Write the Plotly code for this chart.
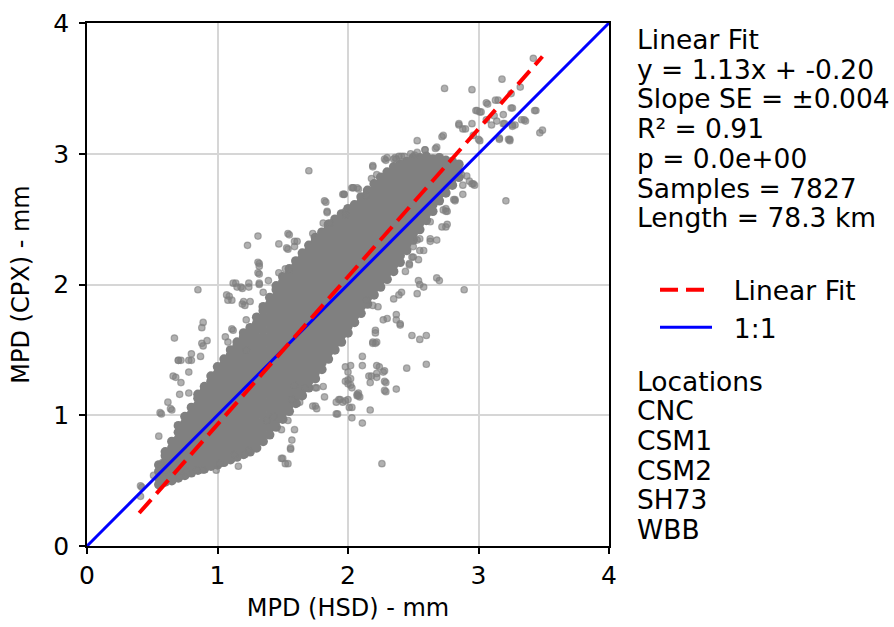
import plotly.graph_objects as go

# ---------------- data ----------------
# dense core of the cloud: column x positions (hundredths of mm) and the y values
# (hundredths of mm) of the samples stacked in each column
core_cols = [55, 60, 65, 70, 75, 80, 85, 90, 95, 100, 105, 110, 115, 120, 125, 130,
             135, 140, 145, 150, 155, 160, 165, 170, 175, 180, 185, 190, 195, 200,
             205, 210, 215, 220, 225, 230, 235, 240, 245, 250, 255, 260, 265, 270,
             275, 280, 285]
core_vals = [
    [47, 52, 57, 62],
    [49, 54, 59, 64, 69, 72],
    [50, 55, 60, 65, 70, 75, 80],
    [52, 57, 62, 67, 72, 77, 82, 87, 92],
    [54, 59, 64, 69, 74, 79, 84, 89, 94, 99],
    [56, 61, 66, 71, 76, 81, 86, 91, 96, 101, 106],
    [58, 63, 68, 73, 78, 83, 88, 93, 98, 103, 108, 113, 116],
    [59, 64, 69, 74, 79, 84, 89, 94, 99, 104, 109, 114, 119, 122],
    [61, 66, 71, 76, 81, 86, 91, 96, 101, 106, 111, 116, 121, 126, 130],
    [62, 67, 72, 77, 82, 87, 92, 97, 102, 107, 112, 117, 122, 127, 132, 137],
    [64, 69, 74, 79, 84, 89, 94, 99, 104, 109, 114, 119, 124, 129, 134, 139, 143],
    [66, 71, 76, 81, 86, 91, 96, 101, 106, 111, 116, 121, 126, 131, 136, 141, 146, 150],
    [68, 73, 78, 83, 88, 93, 98, 103, 108, 113, 118, 123, 128, 133, 138, 143, 148, 153, 156],
    [70, 75, 80, 85, 90, 95, 100, 105, 110, 115, 120, 125, 130, 135, 140, 145, 150, 155, 160, 163],
    [72, 77, 82, 87, 92, 97, 102, 107, 112, 117, 122, 127, 132, 137, 142, 147, 152, 157, 162, 167],
    [75, 80, 85, 90, 95, 100, 105, 110, 115, 120, 125, 130, 135, 140, 145, 150, 155, 160, 165, 170, 175],
    [80, 85, 90, 95, 100, 105, 110, 115, 120, 125, 130, 135, 140, 145, 150, 155, 160, 165, 170, 175, 180, 183],
    [85, 90, 95, 100, 105, 110, 115, 120, 125, 130, 135, 140, 145, 150, 155, 160, 165, 170, 175, 180, 185, 190],
    [91, 96, 101, 106, 111, 116, 121, 126, 131, 136, 141, 146, 151, 156, 161, 166, 171, 176, 181, 186, 191, 196, 199],
    [97, 102, 107, 112, 117, 122, 127, 132, 137, 142, 147, 152, 157, 162, 167, 172, 177, 182, 187, 192, 197, 202, 206],
    [103, 108, 113, 118, 123, 128, 133, 138, 143, 148, 153, 158, 163, 168, 173, 178, 183, 188, 193, 198, 203, 208, 212],
    [109, 114, 119, 124, 129, 134, 139, 144, 149, 154, 159, 164, 169, 174, 179, 184, 189, 194, 199, 204, 209, 214, 218],
    [115, 120, 125, 130, 135, 140, 145, 150, 155, 160, 165, 170, 175, 180, 185, 190, 195, 200, 205, 210, 215, 220, 224],
    [121, 126, 131, 136, 141, 146, 151, 156, 161, 166, 171, 176, 181, 186, 191, 196, 201, 206, 211, 216, 221, 226, 230],
    [128, 133, 138, 143, 148, 153, 158, 163, 168, 173, 178, 183, 188, 193, 198, 203, 208, 213, 218, 223, 228, 233, 236],
    [135, 140, 145, 150, 155, 160, 165, 170, 175, 180, 185, 190, 195, 200, 205, 210, 215, 220, 225, 230, 235, 240],
    [143, 148, 153, 158, 163, 168, 173, 178, 183, 188, 193, 198, 203, 208, 213, 218, 223, 228, 233, 238, 243, 246],
    [150, 155, 160, 165, 170, 175, 180, 185, 190, 195, 200, 205, 210, 215, 220, 225, 230, 235, 240, 245, 250],
    [156, 161, 166, 171, 176, 181, 186, 191, 196, 201, 206, 211, 216, 221, 226, 231, 236, 241, 246, 251, 254],
    [163, 168, 173, 178, 183, 188, 193, 198, 203, 208, 213, 218, 223, 228, 233, 238, 243, 248, 253, 258],
    [171, 176, 181, 186, 191, 196, 201, 206, 211, 216, 221, 226, 231, 236, 241, 246, 251, 256, 261],
    [178, 183, 188, 193, 198, 203, 208, 213, 218, 223, 228, 233, 238, 243, 248, 253, 258, 263, 267],
    [185, 190, 195, 200, 205, 210, 215, 220, 225, 230, 235, 240, 245, 250, 255, 260, 265, 270, 272],
    [192, 197, 202, 207, 212, 217, 222, 227, 232, 237, 242, 247, 252, 257, 262, 267, 272, 277],
    [198, 203, 208, 213, 218, 223, 228, 233, 238, 243, 248, 253, 258, 263, 268, 273, 278, 282],
    [204, 209, 214, 219, 224, 229, 234, 239, 244, 249, 254, 259, 264, 269, 274, 279, 284, 286],
    [210, 215, 220, 225, 230, 235, 240, 245, 250, 255, 260, 265, 270, 275, 280, 285, 290],
    [217, 222, 227, 232, 237, 242, 247, 252, 257, 262, 267, 272, 277, 282, 287, 292],
    [226, 231, 236, 241, 246, 251, 256, 261, 266, 271, 276, 281, 286, 291, 294],
    [234, 239, 244, 249, 254, 259, 264, 269, 274, 279, 284, 289, 294, 297],
    [242, 247, 252, 257, 262, 267, 272, 277, 282, 287, 292, 297],
    [249, 254, 259, 264, 269, 274, 279, 284, 289, 294, 298],
    [256, 261, 266, 271, 276, 281, 286, 291, 296],
    [264, 269, 274, 279, 284, 289, 294, 297],
    [270, 275, 280, 285, 290, 295],
    [276, 281, 286, 291, 294],
    [282, 287, 292],
]

# scattered samples around the core (mm)
fringe_x = [
    3.42, 3.18, 2.74, 2.95, 3.32, 3.07, 3.15, 2.99, 3.01, 3.44, 3.36, 3.49, 3.47, 3.24, 3.16, 3.01,
    3.26, 2.85, 2.88, 3.20, 3.12, 2.72, 2.53, 3.21, 2.88, 2.95, 2.82, 2.75, 2.75, 2.70, 2.89, 2.55,
    2.53, 2.58, 1.70,
    3.25, 3.06, 3.13, 2.98, 3.02, 2.85, 2.90, 2.95, 2.96, 3.00, 2.73, 3.06, 3.10, 3.14, 3.19, 3.19,
    3.26, 3.26, 3.35, 3.23, 3.16, 2.97, 2.88, 2.87, 2.82, 2.76, 2.76, 2.19, 2.28, 2.35, 2.41, 2.48,
    2.53, 2.59, 2.68, 2.18, 2.22, 1.96, 2.04, 1.98, 2.63, 2.55, 2.55, 2.50, 2.47, 2.63, 2.73, 2.91,
    2.93,
    3.25, 3.33, 3.43, 3.24, 3.28, 2.96, 2.81, 2.75, 2.72, 2.68, 2.63, 2.58, 2.54, 2.54, 2.68, 2.30,
    2.36, 2.39, 2.03, 2.07, 1.97, 1.82, 1.84, 1.81, 1.54, 1.59, 1.53, 1.52, 1.55, 1.73, 1.86, 1.98,
    1.31, 1.23, 1.55, 1.47, 1.61, 1.54, 1.83, 1.97, 2.04, 2.08, 1.84, 1.98, 2.14, 2.19, 2.29, 2.37,
    2.43, 2.51, 2.59, 2.67,
    1.14, 1.18, 1.24, 1.09, 1.11, 1.19, 1.25, 0.89, 0.88, 0.92, 0.89, 0.70, 0.80, 0.68, 1.32, 1.32,
    1.32, 1.39, 1.47, 0.85, 0.67,
    1.59, 1.31, 1.32, 1.12, 1.15, 1.19, 1.24, 1.31, 1.32, 1.35, 1.07, 1.08, 1.20, 1.21, 1.11, 1.12,
    1.06, 1.08, 1.22,
    0.56, 0.55, 0.62, 0.65, 0.70, 0.72, 0.78, 0.78, 0.72, 0.78, 0.71, 0.66, 0.80, 0.87, 0.88, 0.57,
    0.58, 0.42, 0.41, 0.51, 0.60, 0.71, 0.76, 0.84, 0.89, 0.99, 1.02, 1.13, 1.21, 1.24, 1.16, 1.49,
    1.52, 1.56, 1.57, 1.59, 1.63, 1.59, 1.73, 1.76, 1.38, 1.43, 1.49, 1.54, 1.57, 1.61, 1.22,
    0.57, 0.64, 0.41,
    2.60, 2.55, 2.60, 2.45, 2.26, 2.11, 2.17, 2.03, 1.92, 1.98, 2.29, 2.37, 2.29, 2.22, 2.18, 2.24,
    2.11, 2.11, 1.98, 2.02, 2.08, 2.01, 1.98, 2.02, 1.54, 1.50, 1.56,
    2.22, 2.22, 2.28, 2.17, 2.28, 2.28, 2.49, 2.19, 2.22, 2.00, 2.03, 2.07, 2.09, 1.93, 1.96, 2.00,
    2.03, 1.91, 1.82, 1.75, 1.76, 1.81, 1.75, 1.67, 2.37, 2.40, 2.30, 2.27, 2.21, 2.21,
    2.14, 2.19, 2.23, 2.35, 2.39, 2.41, 2.37, 2.21, 2.19, 2.40, 2.27, 2.16, 2.00, 2.02, 2.00, 2.08,
    2.07, 1.94, 1.91, 2.44, 2.49, 2.47, 2.50, 2.53,
]
fringe_y = [
    3.73, 3.57, 3.50, 3.49, 3.51, 3.38, 3.41, 3.33, 3.32, 3.33, 3.25, 3.18, 3.16, 3.10, 3.12, 3.10,
    3.21, 3.22, 3.19, 3.23, 3.29, 3.13, 3.10, 2.64, 2.76, 2.77, 2.64, 2.58, 2.44, 2.03, 1.96, 2.00,
    1.93, 1.98, 2.87,
    3.46, 3.39, 3.41, 3.33, 3.32, 3.23, 3.19, 3.23, 3.14, 3.11, 3.14, 3.26, 3.22, 3.25, 3.30, 3.23,
    3.35, 3.22, 3.26, 3.11, 3.11, 2.76, 2.69, 2.84, 2.65, 2.56, 2.46, 2.91, 2.96, 2.96, 2.98, 3.00,
    3.01, 3.03, 3.05, 2.81, 2.84, 2.69, 2.74, 2.54, 2.35, 2.35, 2.26, 2.21, 2.16, 2.48, 2.57, 2.83,
    2.79,
    3.35, 3.26, 3.33, 3.11, 3.22, 2.77, 2.65, 2.56, 2.44, 2.34, 2.33, 2.26, 2.19, 2.03, 2.05, 2.97,
    2.97, 2.98, 2.74, 2.74, 2.69, 2.64, 2.56, 2.47, 2.39, 2.33, 2.28, 2.12, 2.11, 2.39, 2.47, 2.56,
    2.37, 2.30, 2.38, 2.31, 2.33, 2.27, 2.63, 2.69, 2.74, 2.73, 2.55, 2.53, 2.68, 2.90, 2.95, 2.96,
    2.98, 2.99, 3.03, 3.04,
    2.01, 1.98, 1.98, 1.91, 1.88, 1.85, 1.87, 1.71, 1.67, 1.57, 1.53, 1.42, 1.42, 1.29, 2.16, 2.08,
    2.00, 2.03, 2.09, 1.96, 1.59,
    2.29, 2.17, 2.14, 2.01, 1.98, 1.97, 2.01, 2.09, 2.01, 1.94, 1.92, 1.88, 1.87, 1.84, 1.66, 1.65,
    1.60, 1.56, 1.73,
    1.02, 0.84, 1.10, 1.04, 1.42, 1.42, 1.42, 1.33, 1.25, 1.17, 1.16, 1.30, 1.47, 1.45, 1.55, 0.62,
    0.64, 0.45, 0.38, 0.54, 0.57, 0.53, 0.57, 0.58, 0.58, 0.58, 0.63, 0.70, 0.70, 0.73, 0.61, 0.67,
    0.63, 0.75, 0.81, 0.89, 1.10, 1.23, 1.07, 1.21, 0.96, 0.99, 0.89, 0.96, 1.12, 1.09, 1.50,
    1.01, 1.05, 0.46,
    1.61, 1.58, 1.39, 1.36, 0.63, 0.94, 1.04, 0.98, 1.01, 1.11, 1.18, 1.20, 1.25, 1.29, 1.30, 1.37,
    1.45, 1.38, 1.37, 1.38, 1.15, 1.06, 1.26, 1.23, 0.63, 0.67, 0.74,
    1.38, 1.32, 1.34, 1.25, 1.26, 1.19, 1.61, 1.56, 1.56, 1.27, 1.21, 1.15, 1.14, 1.12, 1.10, 1.12,
    1.06, 1.01, 1.14, 1.07, 1.05, 1.22, 1.21, 1.21, 1.77, 1.69, 1.74, 1.73, 1.65, 1.63,
    1.88, 1.84, 1.83, 1.89, 1.92, 1.94, 1.73, 1.55, 1.55, 1.70, 1.33, 1.30, 1.33, 1.28, 1.24, 1.17,
    1.16, 1.12, 1.10, 2.10, 2.21, 2.15, 2.29, 2.34,
]

# linear fit statistics printed next to the chart
fit_slope = 1.13
fit_intercept = -0.20
fit_slope_se = 0.004
fit_r2 = 0.91
fit_p = 0.0
n_samples = 7827
length_km = 78.3
fit_x_range = [0.40, 3.49]          # smallest and largest HSD value
one_to_one = [0, 4]
locations = ["CNC", "CSM1", "CSM2", "SH73", "WBB"]
axis_ticks = [0, 1, 2, 3, 4]

# ---------------- build the figure ----------------
core_x, core_y = [], []
for cx, ys in zip(core_cols, core_vals):
    for yv in ys:
        core_x.append(cx / 100.0)
        core_y.append(yv / 100.0)

fit_y = [fit_slope * v + fit_intercept for v in fit_x_range]

FONT = "DejaVu Sans"
grey_core = "rgb(128,128,128)"
grey_pt = "rgba(128,128,128,0.62)"

fig = go.Figure()
fig.add_trace(go.Scatter(
    x=core_x, y=core_y, mode="markers", showlegend=False, hoverinfo="skip",
    marker=dict(size=9.5, color=grey_core, line=dict(width=0)),
))
fig.add_trace(go.Scatter(
    x=fringe_x, y=fringe_y, mode="markers", showlegend=False, hoverinfo="skip",
    marker=dict(size=6.5, color=grey_pt, line=dict(width=1.2, color=grey_pt)),
))
fig.add_trace(go.Scatter(
    x=one_to_one, y=one_to_one, mode="lines", name="\u00a0\u00a01:1", legendrank=2,
    line=dict(color="#0000ff", width=3),
))
fig.add_trace(go.Scatter(
    x=fit_x_range, y=fit_y, mode="lines", name="\u00a0\u00a0Linear Fit", legendrank=1,
    line=dict(color="#ff0000", width=4, dash="18px,8px"),
))

axis_common = dict(
    range=[0, 4], tickvals=axis_ticks, showgrid=True, gridcolor="#d6d6d6", gridwidth=1.5,
    showline=True, linecolor="black", linewidth=1.6, mirror=True,
    ticks="outside", ticklen=6, tickwidth=1.6, tickcolor="black",
    tickfont=dict(family=FONT, size=25, color="black"), zeroline=False,
    automargin=False,
)
fig.update_xaxes(**axis_common, ticklabelstandoff=0,
                 title=dict(text="MPD (HSD) - mm",
                            font=dict(family=FONT, size=24, color="black"), standoff=10))
fig.update_yaxes(**axis_common, ticklabelstandoff=5,
                 title=dict(text="MPD (CPX) - mm",
                            font=dict(family=FONT, size=24, color="black"), standoff=17))

stats_lines = [
    "Linear Fit",
    f"y = {fit_slope:.2f}x + {fit_intercept:.2f}",
    f"Slope SE = ±{fit_slope_se:.3f}",
    f"R² = {fit_r2:.2f}",
    f"p = {fit_p:.1e}",
    f"Samples = {n_samples}",
    f"Length = {length_km:.1f} km",
]
W, H = 894, 627
L, R, T, B = 87, 285, 23, 81
pw, ph = W - L - R, H - T - B


def px_to_paper(px, py):
    return (px - L) / pw, (H - B - py) / ph


annotations = []
for i, txt in enumerate(stats_lines):
    xp, yp = px_to_paper(635, 39.5 + i * 29.7)
    annotations.append(dict(text=txt, x=xp, y=yp, xref="paper", yref="paper",
                            xanchor="left", yanchor="middle", showarrow=False,
                            font=dict(family=FONT, size=26.5, color="black")))
for i, txt in enumerate(["Locations"] + locations):
    xp, yp = px_to_paper(635, 381 + i * 29.7)
    annotations.append(dict(text=txt, x=xp, y=yp, xref="paper", yref="paper",
                            xanchor="left", yanchor="middle", showarrow=False,
                            font=dict(family=FONT, size=26.5, color="black")))

lx, ly = px_to_paper(655, 266)
fig.update_layout(
    width=W, height=H, margin=dict(l=L, r=R, t=T, b=B, autoexpand=False),
    plot_bgcolor="white", paper_bgcolor="white",
    font=dict(family=FONT, color="black"),
    showlegend=True,
    legend=dict(x=lx, y=ly, xanchor="left", yanchor="top", bgcolor="rgba(0,0,0,0)",
                font=dict(family=FONT, size=26.5, color="black"), itemwidth=52,
                tracegroupgap=0),
    annotations=annotations,
)

# the page's default body margin would shift the figure; remove it
fig.write_html("out.html", config={"displayModeBar": False},
               post_script="document.body.style.margin='0px';")
